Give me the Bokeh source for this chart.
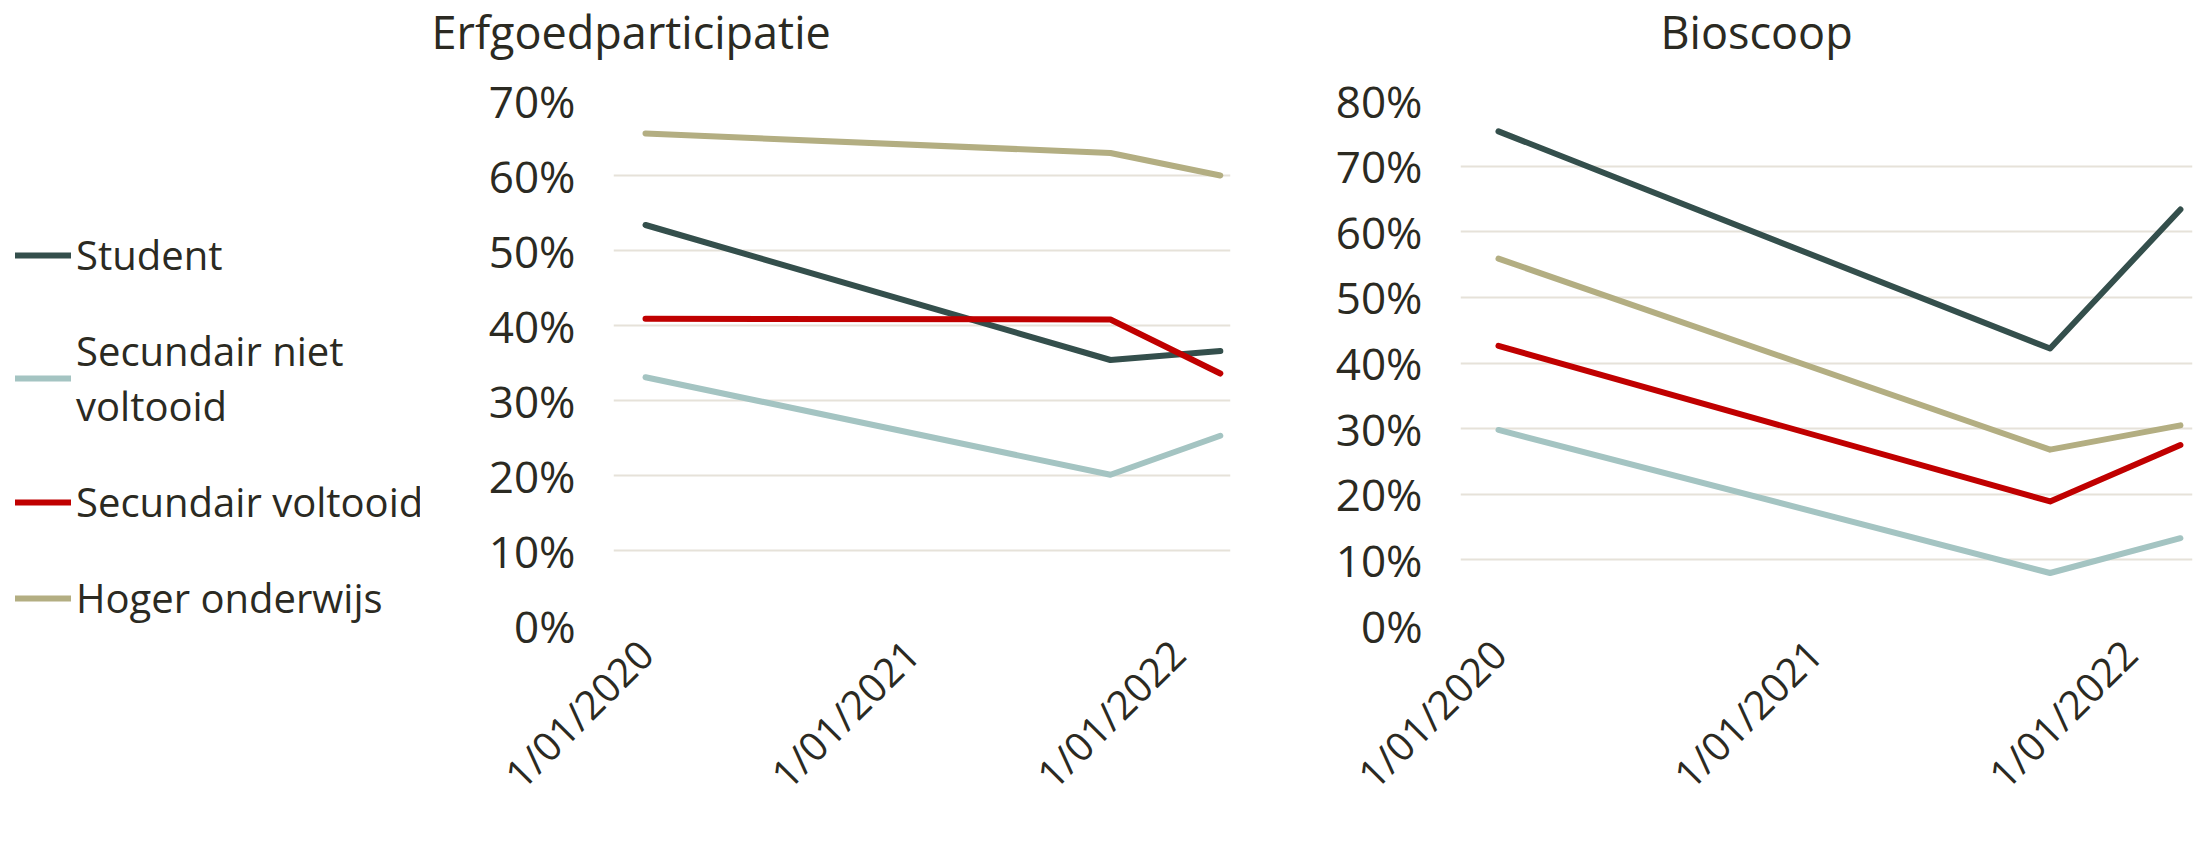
import pandas as pd
from bokeh.plotting import figure
from bokeh.layouts import row
from bokeh.models import (Range1d, FixedTicker, NumeralTickFormatter, Legend, LegendItem, Title)
from bokeh.embed import file_html
from bokeh.resources import INLINE

# ---- data ----
dates = ["2020-01-01", "2021-10-01", "2022-03-01"]
x_tick_dates = ["2020-01-01", "2021-01-01", "2022-01-01"]
x_tick_labels = ["1/01/2020", "1/01/2021", "1/01/2022"]

series_names = ["Student", "Secundair niet\nvoltooid", "Secundair voltooid", "Hoger onderwijs"]

erfgoed_student = [0.534, 0.354, 0.366]
erfgoed_sec_niet = [0.331, 0.201, 0.253]
erfgoed_sec_volt = [0.409, 0.408, 0.336]
erfgoed_hoger = [0.656, 0.630, 0.600]

bios_student = [0.753, 0.422, 0.634]
bios_sec_niet = [0.298, 0.080, 0.133]
bios_sec_volt = [0.426, 0.189, 0.275]
bios_hoger = [0.559, 0.268, 0.305]

erfgoed_yticks = [0, 0.1, 0.2, 0.3, 0.4, 0.5, 0.6, 0.7]
bios_yticks = [0, 0.1, 0.2, 0.3, 0.4, 0.5, 0.6, 0.7, 0.8]

# ---- style ----
colors = ["#344F4C", "#A4C4C2", "#C00000", "#B3AE82"]
FONT = "Open Sans"
TXT = "#2B2A22"
GRID = "#E6E2D9"

x = pd.to_datetime(dates)
tick_ms = [pd.Timestamp(d).value / 1e6 for d in x_tick_dates]
overrides = {t: lab for t, lab in zip(tick_ms, x_tick_labels)}
x_start = pd.Timestamp("2019-11-18")
x_end = pd.Timestamp("2022-03-15")

H = 836
erfgoed_series = [erfgoed_student, erfgoed_sec_niet, erfgoed_sec_volt, erfgoed_hoger]
bios_series = [bios_student, bios_sec_niet, bios_sec_volt, bios_hoger]


def make_fig(title, width, bl, br, ymax, yticks, title_offset):
    p = figure(width=width, height=H, x_axis_type="datetime", title=None,
               x_range=Range1d(x_start, x_end), y_range=Range1d(0, ymax),
               output_backend="svg", toolbar_location=None,
               min_border_left=bl, min_border_right=br,
               min_border_top=98, min_border_bottom=H - 625)
    p.outline_line_color = None
    p.background_fill_color = "white"
    p.border_fill_color = "white"
    # spacer next to the frame, then the real title on top of it
    p.add_layout(Title(text=" ", text_font_size="1px", standoff=34), "above")
    p.add_layout(Title(text=title, align="left", offset=title_offset,
                       vertical_align="top", standoff=0,
                       text_font=FONT, text_font_size="45px",
                       text_font_style="normal", text_color=TXT), "above")

    p.xgrid.grid_line_color = None
    p.ygrid.grid_line_color = GRID
    p.ygrid.grid_line_width = 2
    p.yaxis.ticker = FixedTicker(ticks=yticks)
    p.yaxis.formatter = NumeralTickFormatter(format="0%")
    p.xaxis.ticker = FixedTicker(ticks=tick_ms)
    p.xaxis.major_label_overrides = overrides
    p.xaxis.major_label_orientation = 0.785398
    for ax in (p.xaxis, p.yaxis):
        ax.axis_line_color = None
        ax.major_tick_line_color = None
        ax.major_tick_out = 0
        ax.major_tick_in = 0
        ax.minor_tick_line_color = None
        ax.major_label_text_font = FONT
        ax.major_label_text_color = TXT
    p.yaxis.major_label_text_font_size = "44px"
    p.xaxis.major_label_text_font_size = "40px"
    p.xaxis.major_label_text_line_height = 0.6
    p.yaxis.major_label_standoff = 38
    p.xaxis.major_label_standoff = 21
    return p


# legend panel (its own figure, no axes; its series lie outside its own ranges)
pleg = figure(width=420, height=H, x_range=Range1d(0, 1), y_range=Range1d(0, 1),
              output_backend="svg", toolbar_location=None, min_border=0,
              x_axis_location=None, y_axis_location=None)
pleg.grid.visible = False
pleg.outline_line_color = None
leg_rend = [pleg.line(x, ys, line_color=c, line_width=6, line_cap="round")
            for ys, c in zip(erfgoed_series, colors)]
legend = Legend(items=[LegendItem(label=n, renderers=[r]) for n, r in zip(series_names, leg_rend)],
                location=(15, 0), ncols=1)
legend.label_text_font = FONT
legend.label_text_font_size = "40px"
legend.label_text_color = TXT
legend.glyph_width = 56
legend.glyph_height = 40
legend.label_height = 40
legend.label_standoff = 5
legend.spacing = 41
legend.padding = 0
legend.margin = 0
legend.border_line_color = None
legend.background_fill_alpha = 0
pleg.add_layout(legend, "center")

p1 = make_fig("Erfgoedparticipatie", 820, 193, 10, 0.7, erfgoed_yticks, -182)
p2 = make_fig("Bioscoop", 956, 220, 4, 0.8, bios_yticks, 200)

for ys, c in zip(erfgoed_series, colors):
    p1.line(x, ys, line_color=c, line_width=6, line_cap="round", line_join="round")
for ys, c in zip(bios_series, colors):
    p2.line(x, ys, line_color=c, line_width=6, line_cap="round", line_join="round")

layout = row(pleg, p1, p2)
open("out.html", "w").write(file_html(layout, INLINE))
